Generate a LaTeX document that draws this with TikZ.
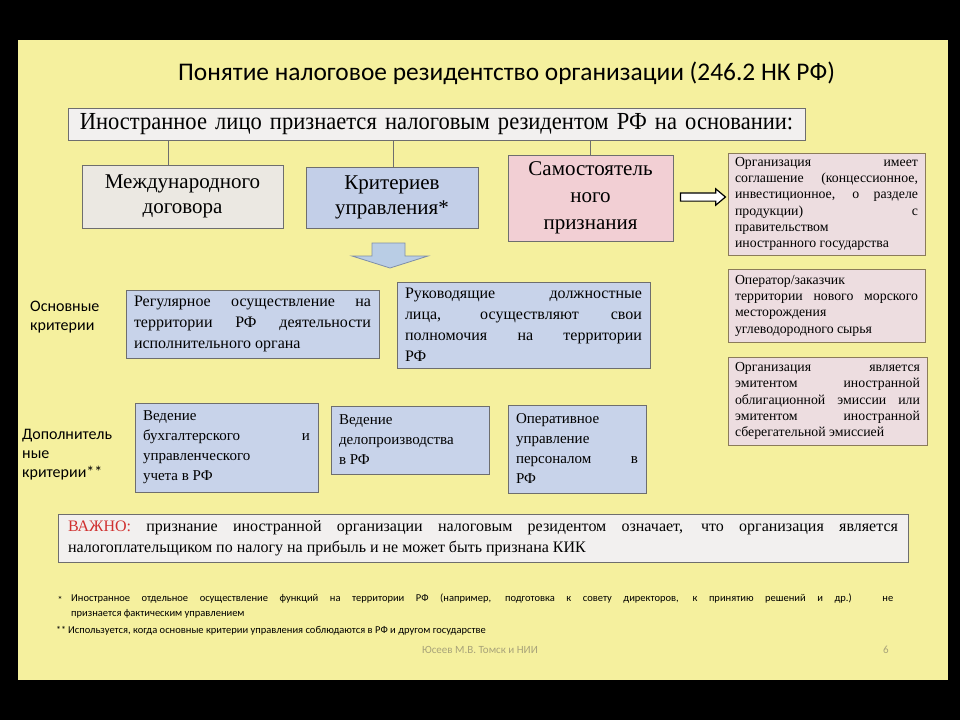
\documentclass[tikz,border=0pt]{standalone}
\usepackage{fontspec}
\setmainfont{Liberation Serif}
\newfontfamily\calib{Carlito}
\newfontfamily\condserif{Liberation Serif}[FakeStretch=0.92]
\usetikzlibrary{shapes.arrows,calc}
\definecolor{slide}{HTML}{F5F09E}
\definecolor{topfill}{HTML}{F2F0EF}
\definecolor{grayfill}{HTML}{EBE8E2}
\definecolor{bluefill}{HTML}{C3CFE8}
\definecolor{pinkfill}{HTML}{F2CFD4}
\definecolor{rosefill}{HTML}{EDDDE0}
\definecolor{lbluefill}{HTML}{C8D3EA}
\definecolor{boxline}{HTML}{6E6E6E}
\definecolor{oliveline}{HTML}{8B7B5A}
\definecolor{impred}{HTML}{D0302F}
\definecolor{arrowfill}{HTML}{B9CDE5}
\definecolor{arrowline}{HTML}{7F8FA8}
\definecolor{footgray}{HTML}{A8A37A}
\begin{document}
\begin{tikzpicture}[x=1pt,y=-1pt,
  box/.style={draw=boxline, line width=1pt, inner xsep=8pt, inner ysep=2pt},
  bigtxt/.style={font=\fontsize{21}{25}\selectfont, align=center},
  rbox/.style={box, draw=oliveline, fill=rosefill, inner xsep=7pt, align=justify, font=\fontsize{13.8}{16.3}\selectfont},
  bbox/.style={box, fill=lbluefill, align=justify, font=\fontsize{16}{21}\selectfont},
  cbox/.style={box, fill=lbluefill, align=justify, font=\fontsize{15}{20}\selectfont},
  sidelab/.style={font=\calib\fontsize{16}{19}\selectfont, align=left, inner sep=0pt},
  conn/.style={draw=boxline, line width=0.8pt}
]
\fill[black] (0,0) rectangle (960,720);
\useasboundingbox (0,0) rectangle (960,720);
\fill[slide] (18,40) rectangle (948,680);

% title
\node[font=\calib\fontsize{25.4}{29}\selectfont] (title) at (506.5,73) {Понятие налоговое резидентство организации (246.2 НК РФ)};

% top box
\node[box, fill=topfill, minimum width=737pt, minimum height=32pt, text width=735pt, inner xsep=1pt, align=center,
      font=\condserif\fontsize{24.5}{26}\selectfont] (top) at (436.5,124)
  {Иностранное лицо признается налоговым резидентом РФ на основании:};

% three grounds
\node[box, bigtxt, fill=grayfill, minimum width=201pt, minimum height=63pt, text width=185pt] (m1) at (182.5,196.5)
  {Международного\\договора};
\node[box, bigtxt, fill=bluefill, minimum width=172pt, minimum height=61pt, text width=156pt] (m2) at (392,197.5)
  {Критериев\\управления*};
\node[box, bigtxt, fill=pinkfill, minimum width=165pt, minimum height=86pt, text width=149pt,
      font=\fontsize{21}{27}\selectfont] (m3) at (590.5,198)
  {Самостоятель\\ного\\признания};

\draw[conn] ([xshift=-14.5pt]m1.north) -- ([xshift=-14.5pt]m1.north |- top.south);
\draw[conn] ([xshift=1pt]m2.north) -- ([xshift=1pt]m2.north |- top.south);
\draw[conn] (m3.north) -- (m3.north |- top.south);

% right boxes
\node[rbox, minimum width=197pt, minimum height=102pt, text width=183pt] (r1) at (826.5,204)
  {Организация\hfill имеет\linebreak соглашение (концессионное,\linebreak инвестиционное, о разделе\linebreak продукции)\hfill с\linebreak правительством\linebreak иностранного государства};
\node[rbox, minimum width=197pt, minimum height=73pt, text width=183pt] (r2) at (826.5,305.5)
  {Оператор/заказчик\\ территории нового морского\linebreak месторождения\\ углеводородного сырья};
\node[rbox, minimum width=199pt, minimum height=88pt, text width=185pt] (r3) at (827.5,401)
  {Организация\hfill является\linebreak эмитентом\hfill иностранной\linebreak облигационной эмиссии или\linebreak эмитентом\hfill иностранной\linebreak сберегательной эмиссией};

% double (hollow) arrow
\node[single arrow, draw=black, line width=1.2pt, fill=white, inner sep=3.5pt, minimum height=45pt,
      single arrow head extend=4pt, single arrow tip angle=80] (dbl)
  at ([yshift=4pt]$(m3.east)!0.5!(r1.west)$) {};

% down block arrow
\draw[draw=arrowline, fill=arrowfill, line width=0.8pt]
  (372,243) -- (405,243) -- (405,256) -- (428,256) -- (390,268) -- (352,256) -- (372,256) -- cycle;

% main criteria
\node[sidelab, anchor=west] (lab1) at (30,317) {Основные\\критерии};
\node[bbox, minimum width=253pt, minimum height=68pt, text width=237pt] (b1) at (252.5,324)
  {Регулярное осуществление на\linebreak территории РФ деятельности\linebreak исполнительного органа};
\node[bbox, minimum width=253pt, minimum height=86pt, text width=237pt] (b2) at (523.5,325)
  {Руководящие\hfill должностные\linebreak лица, осуществляют свои\linebreak полномочия на территории\linebreak РФ};

% additional criteria
\node[sidelab, anchor=west] (lab2) at (22,455) {Дополнитель\\ные\\критерии**};
\node[cbox, minimum width=183pt, minimum height=89pt, text width=167pt] (c1) at (226.5,447.5)
  {Ведение\\ бухгалтерского\hfill и\linebreak управленческого\\ учета в РФ};
\node[cbox, minimum width=158pt, minimum height=68pt, text width=142pt] (c2) at (410,440)
  {Ведение\\ делопроизводства\\ в РФ};
\node[cbox, minimum width=138pt, minimum height=88pt, text width=122pt] (c3) at (577,449)
  {Оперативное\\ управление\\ персоналом\hfill в\linebreak РФ};

% important note
\node[box, fill=topfill, minimum width=850pt, minimum height=48pt, text width=830pt, inner xsep=10pt,
      align=justify, font=\fontsize{16}{21}\selectfont] (imp) at (483,538)
  {\textcolor{impred}{ВАЖНО:} признание иностранной организации налоговым резидентом означает, что организация является\linebreak налогоплательщиком по налогу на прибыль и не может быть признана КИК};

% footnotes
\node[font=\calib\fontsize{10}{14}\selectfont, inner sep=0pt] (fm1) at (60,600) {*};
\node[font=\calib\fontsize{10.5}{15}\selectfont, inner sep=0pt, anchor=north west, text width=822pt, align=justify] (fn1) at (71,594)
  {Иностранное отдельное осуществление функций на территории РФ (например, подготовка к совету директоров, к принятию решений и др.) не\linebreak признается фактическим управлением};
\node[font=\calib\fontsize{10}{14}\selectfont, inner sep=0pt] (fm2) at (61,630) {**};
\node[font=\calib\fontsize{10.5}{14}\selectfont, inner sep=0pt, anchor=west] (fn2) at (68,631)
  {Используется, когда основные критерии управления соблюдаются в РФ и другом государстве};

% footer
\node[font=\calib\fontsize{11}{14}\selectfont, text=footgray] (foot) at (480,650) {Юсеев М.В. Томск и НИИ};
\node[font=\calib\fontsize{11}{14}\selectfont, text=footgray] (page) at (886,650) {6};
\end{tikzpicture}
\end{document}
